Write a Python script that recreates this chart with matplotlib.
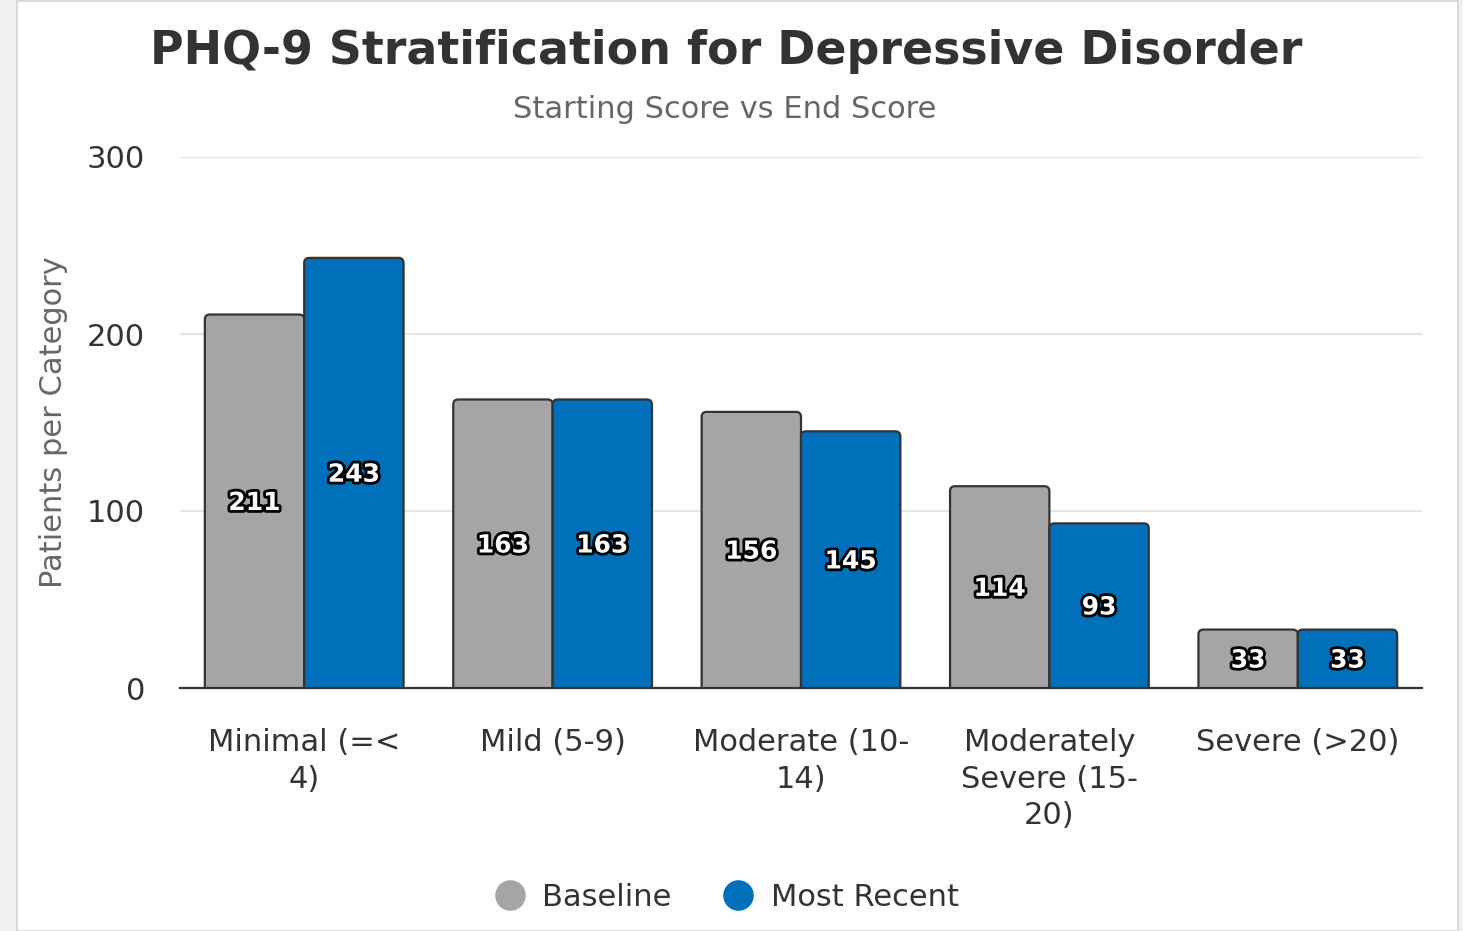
import numpy as np
import matplotlib.pyplot as plt
import matplotlib.patheffects as pe
from matplotlib.patches import FancyBboxPatch, Rectangle
from matplotlib.lines import Line2D

plt.rcParams['font.family'] = ['DejaVu Sans']

categories = ['Minimal (=<\n4)', 'Mild (5-9)', 'Moderate (10-\n14)',
              'Moderately\nSevere (15-\n20)', 'Severe (>20)']
baseline = [211, 163, 156, 114, 33]
most_recent = [243, 163, 145, 93, 33]
series_names = ['Baseline', 'Most Recent']
series_colors = ['#a5a5a5', '#0070ba']

W, H = 1463, 931
fig = plt.figure(figsize=(W / 100, H / 100), dpi=100)
fig.patch.set_facecolor('#f0f0f0')

# white card with thin border
fig.add_artist(Rectangle((17 / W, 0), (1458 - 17) / W, 930 / H, transform=fig.transFigure,
                         facecolor='white', edgecolor='#d4d4d4', lw=1.2, zorder=0))

ax = fig.add_axes([180 / W, 1 - 688 / H, (1422 - 180) / W, (688 - 157) / H])
ax.set_facecolor('white')
ax.patch.set_alpha(0)

x = np.arange(len(categories))
bw = 0.4
ax.set_xlim(-0.5, len(categories) - 0.5)
ax.set_ylim(0, 300)

# rounded bars: radius in data units for each axis
px_x = 248.4
px_y = (688 - 157) / 300
r_x = 5 / px_x
aspect = (5 / px_y) / r_x

for offs, vals, col in [(-bw / 2, baseline, series_colors[0]), (bw / 2, most_recent, series_colors[1])]:
    for xi, v in zip(x, vals):
        left = xi + offs - bw / 2
        p = FancyBboxPatch((left, -10), bw, v + 10,
                           boxstyle=f'round,pad=0,rounding_size={r_x}',
                           mutation_aspect=aspect, facecolor=col, edgecolor='#333333',
                           lw=1.6, zorder=3)
        ax.add_patch(p)
        ax.text(xi + offs, v / 2 - 1, str(v), ha='center', va='center', fontsize=18,
                fontweight='bold', color='white', zorder=5,
                path_effects=[pe.withStroke(linewidth=4, foreground='black')])

ax.set_yticks([0, 100, 200, 300])
ax.grid(axis='y', color='#e6e6e6', lw=1.5, zorder=0)
ax.set_axisbelow(True)
for s in ['top', 'right', 'left']:
    ax.spines[s].set_visible(False)
ax.spines['bottom'].set_color('#333333')
ax.spines['bottom'].set_linewidth(1.6)
ax.spines['bottom'].set_zorder(6)
ax.tick_params(axis='y', length=0, pad=25, labelsize=22, labelcolor='#333333')
ax.set_xticks(x)
ax.set_xticklabels(categories, fontsize=22, color='#333333', linespacing=1.32)
ax.tick_params(axis='x', length=0, pad=29)

ax.set_ylabel('Patients per Category', fontsize=22, color='#666666', labelpad=14)

fig.text(726 / W, 1 - 52 / H, 'PHQ-9 Stratification for Depressive Disorder',
         ha='center', va='center', fontsize=33, fontweight='bold', color='#333333')
fig.text(725 / W, 1 - 110 / H, 'Starting Score vs End Score',
         ha='center', va='center', fontsize=22, color='#666666')

handles = [Line2D([], [], marker='o', ls='', markersize=21, color=c) for c in series_colors]
fig.legend(handles, series_names, loc='center', bbox_to_anchor=(725 / W, 1 - 897 / H),
           ncol=2, frameon=False, fontsize=22, labelcolor='#333333',
           handlelength=1.2, handletextpad=0.45, columnspacing=1.6)

fig.savefig('out.png', dpi=100)
